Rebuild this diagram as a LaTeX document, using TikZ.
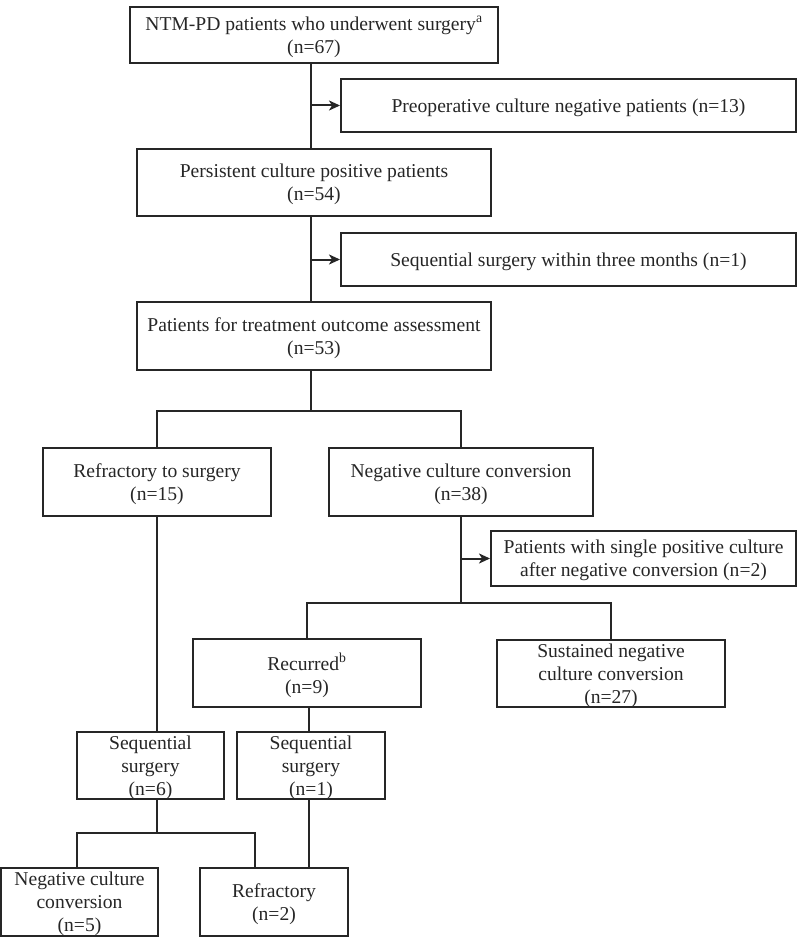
\documentclass[tikz,border=0pt]{standalone}
\usepackage{fontspec}
\setmainfont{Liberation Serif}
\usetikzlibrary{arrows.meta,calc}
\begin{document}
\begin{tikzpicture}[x=1pt,y=-1pt,
  bx/.style={draw=black!85, line width=2pt, inner sep=0pt, align=center,
    font=\fontsize{19.6}{23}\selectfont, text=black!85, text depth=-1.5pt},
  ln/.style={draw=black!85, line width=2pt},
  arr/.style={ln, -{Stealth[length=11pt,width=10pt,inset=3pt]}}]
\useasboundingbox (0,0) rectangle (800,939);
\node[bx, minimum width=368, minimum height=56] (b1) at (314,35) {NTM-PD patients who underwent surgery\textsuperscript{a}\\(n=67)};
\node[bx, minimum width=455, minimum height=53] (b2) at (568.5,105.5) {Preoperative culture negative patients (n=13)};
\node[bx, minimum width=354, minimum height=67] (b3) at (314,182.5) {Persistent culture positive patients\\(n=54)};
\node[bx, minimum width=455, minimum height=53] (b4) at (568.5,259.5) {Sequential surgery within three months (n=1)};
\node[bx, minimum width=354, minimum height=68] (b5) at (314,336) {Patients for treatment outcome assessment\\(n=53)};
\node[bx, minimum width=228, minimum height=68] (b6) at (157,482) {Refractory to surgery\\(n=15)};
\node[bx, minimum width=264, minimum height=68] (b7) at (461,482) {Negative culture conversion\\(n=38)};
\node[bx, minimum width=305, minimum height=55] (b8) at (643.5,558.5) {Patients with single positive culture\\after negative conversion (n=2)};
\node[bx, minimum width=228, minimum height=68] (b9) at (307,673) {Recurred\textsuperscript{b}\\(n=9)};
\node[bx, minimum width=228, minimum height=67] (b10) at (611,673.5) {Sustained negative\\culture conversion\\(n=27)};
\node[bx, minimum width=147, minimum height=67] (b11) at (150.5,765.5) {Sequential\\surgery\\(n=6)};
\node[bx, minimum width=148, minimum height=67] (b12) at (311,765.5) {Sequential\\surgery\\(n=1)};
\node[bx, minimum width=157, minimum height=68] (b13) at (79.5,902) {Negative culture\\conversion\\(n=5)};
\node[bx, minimum width=148, minimum height=68] (b14) at (274,902) {Refractory\\(n=2)};
% guide coordinates
\coordinate (tx) at (311,0);
\coordinate (j1) at (311,411);
\coordinate (j2) at (461,603);
\coordinate (lx) at (157,0);
\coordinate (j3) at (157,833);
\coordinate (llx) at (77,0);
\coordinate (rx) at (309,0);
\coordinate (b14x) at (255,0);
% trunk
\draw[ln] (b1.south -| tx) -- (b3.north -| tx);
\draw[arr] (tx |- b2.west) -- (b2.west);
\draw[ln] (b3.south -| tx) -- (b5.north -| tx);
\draw[arr] (tx |- b4.west) -- (b4.west);
\draw[ln] (b5.south -| tx) -- (j1);
\draw[ln] (b6.north) -- (b6.north |- j1) -- (b7.north |- j1) -- (b7.north);
% negative culture branch
\draw[ln] (b7.south) -- (j2);
\draw[arr] (j2 |- b8.west) -- (b8.west);
\draw[ln] (b9.north) -- (b9.north |- j2) -- (b10.north |- j2) -- (b10.north);
% left column
\draw[ln] (b6.south -| lx) -- (b11.north -| lx);
\draw[ln] (b11.south -| lx) -- (j3);
\draw[ln] (b13.north -| llx) -- (llx |- j3) -- (b14x |- j3) -- (b14.north -| b14x);
% recurred column
\draw[ln] (b9.south -| rx) -- (b12.north -| rx);
\draw[ln] (b12.south -| rx) -- (b14.north -| rx);
\end{tikzpicture}
\end{document}
